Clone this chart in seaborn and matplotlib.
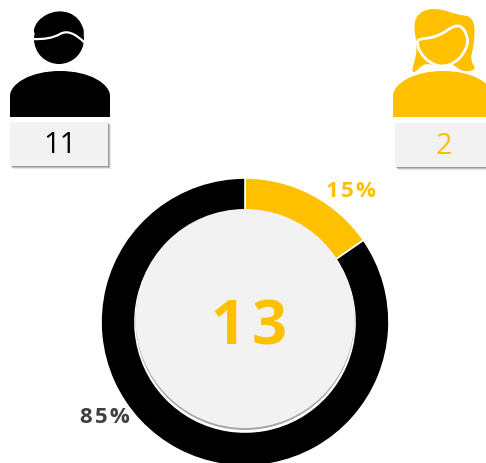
# -*- coding: utf-8 -*-
import matplotlib
matplotlib.use('Agg')
import matplotlib.pyplot as plt
from matplotlib.patches import Circle, PathPatch, Rectangle
from matplotlib.path import Path
import seaborn as sns

# data
genders = ['Male', 'Female']
counts = [11, 2]
pie_values = [2, 11]
pie_labels = ['15%', '85%']
total_label = '13'

W, H = 486, 463
YELLOW = '#FFC000'
BLACK = '#000000'
CARD = '#F2F2F2'

sns.set_theme(style='white')
plt.rcParams['font.family'] = ['Open Sans', 'DejaVu Sans']
pie_colors = sns.color_palette([YELLOW, BLACK])

fig = plt.figure(figsize=(W / 100, H / 100), dpi=100)
ax = fig.add_axes([0, 0, 1, 1])


def flip(pts):
    return [(x, H - y) for x, y in pts]


# closed smooth outline through the midpoints of the given points
def blob(pts, color, z=2, ec='none', lw=0):
    pts = flip(pts)
    n = len(pts)
    mid = [((pts[i][0] + pts[(i + 1) % n][0]) / 2, (pts[i][1] + pts[(i + 1) % n][1]) / 2) for i in range(n)]
    verts = [mid[-1]]
    codes = [Path.MOVETO]
    for i in range(n):
        verts += [pts[i], mid[i]]
        codes += [Path.CURVE3, Path.CURVE3]
    ax.add_patch(PathPatch(Path(verts, codes), fc=color, ec=ec, lw=lw, zorder=z))


# open smooth stroke
def stroke(pts, color, lw, z=4):
    pts = flip(pts)
    verts = [pts[0]]
    codes = [Path.MOVETO]
    for i in range(1, len(pts) - 1):
        end = pts[i + 1] if i == len(pts) - 2 else ((pts[i][0] + pts[i + 1][0]) / 2, (pts[i][1] + pts[i + 1][1]) / 2)
        verts += [pts[i], end]
        codes += [Path.CURVE3, Path.CURVE3]
    ax.add_patch(PathPatch(Path(verts, codes), fc='none', ec=color, lw=lw, zorder=z, capstyle='round'))


# shoulders: straight sides, one rounded curve over the top
def body(x0, x1, color):
    mx = (x0 + x1) / 2
    verts = flip([(x0, 117), (x0, 96), (x0, 84), (mx - 30, 71), (mx, 71), (mx + 30, 71), (x1, 84), (x1, 96), (x1, 117), (x0, 117)])
    codes = [Path.MOVETO, Path.LINETO, Path.CURVE4, Path.CURVE4, Path.CURVE4, Path.CURVE4, Path.CURVE4, Path.CURVE4, Path.LINETO, Path.CLOSEPOLY]
    ax.add_patch(PathPatch(Path(verts, codes), fc=color, ec='none', zorder=2))


def card(x0, x1, y0, y1, value, color):
    for off, a in [(3, 0.15), (2, 0.25), (1, 0.35)]:
        ax.add_patch(Rectangle((x0 + off, H - y1 - off), x1 - x0, y1 - y0, fc='#555555', ec='none', alpha=a, zorder=1))
    ax.add_patch(Rectangle((x0, H - y1), x1 - x0, y1 - y0, fc=CARD, ec='none', zorder=2))
    ax.text((x0 + x1) / 2 + 1, H - (y0 + y1) / 2 - 1.5, str(value), color=color, fontsize=21, ha='center', va='center', zorder=3)


# male icon
ax.add_patch(Circle((59, H - 39), 25, fc=BLACK, ec='none', zorder=2))
blob([(32, 39), (36, 20), (58, 9), (80, 17), (87, 42)], BLACK)
stroke([(32, 39), (50, 40), (70, 28), (85, 43)], 'white', 1.6)
body(10, 110, BLACK)
card(10, 108, 122, 166, counts[0], BLACK)

# female icon
blob([(411, 72), (418, 50), (413, 24), (420, 11), (438, 8), (458, 15), (470, 16), (475, 25), (474, 45), (470, 60), (477, 70), (462, 72), (452, 63), (438, 66), (424, 63), (416, 72)], YELLOW)
blob([(418, 39), (438, 37), (459, 22), (469, 38), (465, 52), (455, 63), (442, 67), (430, 63), (420, 53), (417, 43)], YELLOW, z=3, ec='white', lw=2)
body(393, 493, YELLOW)
ax.add_patch(Rectangle((443, H - 117), 43, 30, fc=YELLOW, ec='none', zorder=2))
card(395, 490, 123, 167, counts[1], YELLOW)

# donut
ax.pie(pie_values, colors=pie_colors, startangle=90, counterclock=False, radius=144, center=(245, H - 322),
       wedgeprops={'width': 34, 'edgecolor': 'white', 'linewidth': 1.2}, frame=True)

# centre disc with a soft shadow
ax.add_patch(Circle((245, H - 320.5), 109.5, fc='#A6A6A6', ec='none', zorder=5))
ax.add_patch(Circle((245, H - 318.5), 109.5, fc=CARD, ec='none', zorder=6))

ax.text(249, H - 329, '\u200a'.join(total_label), color=YELLOW, fontsize=44, fontweight='bold', ha='center', va='center', zorder=7)
ax.text(351, H - 191.5, '\u200a'.join(pie_labels[0]), color=YELLOW, fontsize=16, fontweight='bold', ha='center', va='center', zorder=7)
ax.text(105, H - 417.5, '\u200a'.join(pie_labels[1]), color='#404040', fontsize=16, fontweight='bold', ha='center', va='center', zorder=7)

ax.set_xlim(0, W)
ax.set_ylim(0, H)
ax.set_aspect('auto')
ax.axis('off')

fig.savefig('out.png', dpi=100, facecolor='white')
